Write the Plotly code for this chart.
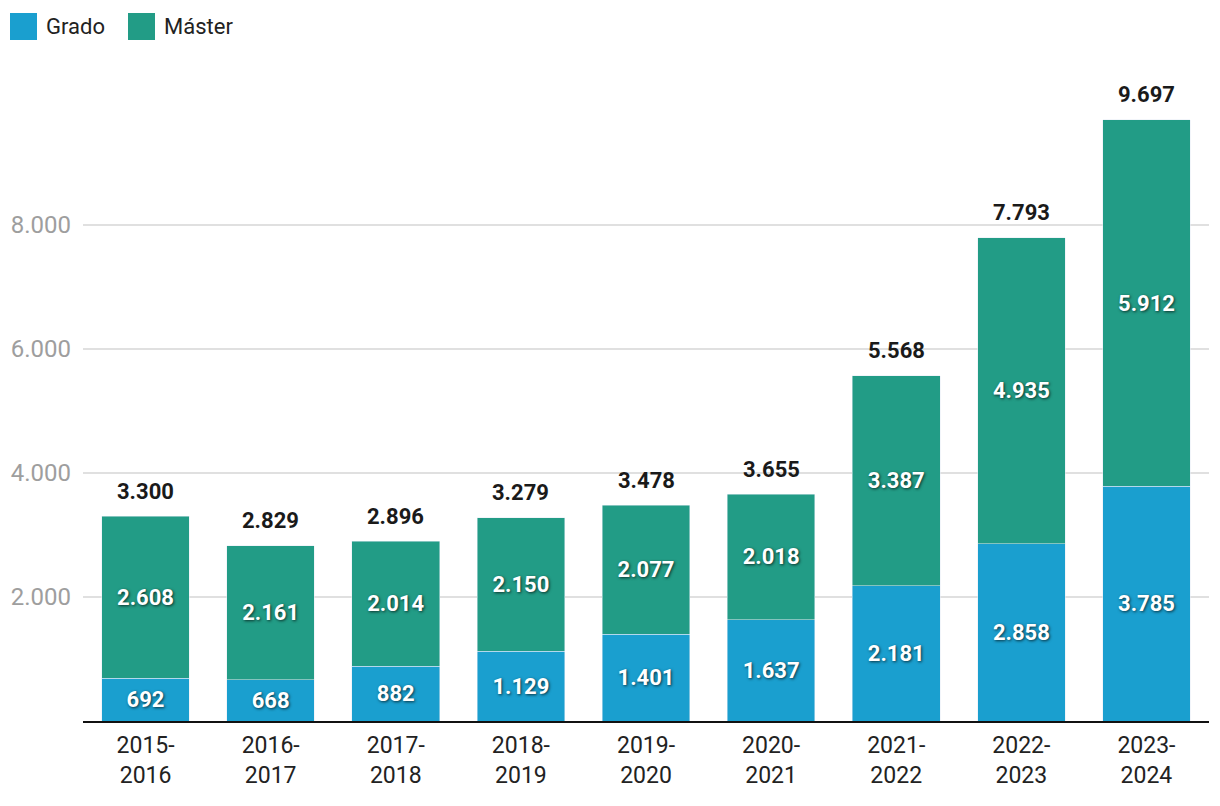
import plotly.graph_objects as go

categories = ["2015-<br>2016", "2016-<br>2017", "2017-<br>2018", "2018-<br>2019", "2019-<br>2020",
              "2020-<br>2021", "2021-<br>2022", "2022-<br>2023", "2023-<br>2024"]
grado = [692, 668, 882, 1129, 1401, 1637, 2181, 2858, 3785]
master = [2608, 2161, 2014, 2150, 2077, 2018, 3387, 4935, 5912]
totals = [3300, 2829, 2896, 3279, 3478, 3655, 5568, 7793, 9697]
y_ticks = [2000, 4000, 6000, 8000]
series_names = ["Grado", "Máster"]
series_colors = ["#1a9fcf", "#229c86"]

FONT = "Roboto"
shadow = "1px 1px 3px rgba(0,0,0,0.7)"

W, H = 1212, 798
L, R, T, B = 75, 11, 62, 85
PW, PH = W - L - R, H - T - B

def px(fx):
    return (fx - L) / PW

def py(fy):
    return (H - B - fy) / PH

fig = go.Figure()
for name, vals, col in zip(series_names, [grado, master], series_colors):
    fig.add_trace(go.Bar(
        x=categories, y=vals, name=name, marker_color=col, showlegend=False,
        texttemplate="%{y:,d}", textposition="inside", insidetextanchor="middle",
        textfont=dict(family=FONT, size=22, color="white", weight="bold", shadow=shadow),
        constraintext="none",
    ))

for c, t in zip(categories, totals):
    fig.add_annotation(x=c, y=t, text=f"{t:,}".replace(",", "."), showarrow=False,
                       yanchor="middle", yshift=25,
                       font=dict(family=FONT, size=22, color="#1a1a1a", weight="bold"))

# custom legend (large square swatches)
legend_x = [2, 120]
for lx, name, col in zip(legend_x, series_names, series_colors):
    fig.add_shape(type="rect", xref="paper", yref="paper",
                  x0=px(lx), x1=px(lx + 27), y0=py(32), y1=py(5),
                  fillcolor=col, line_width=0, layer="above")
    fig.add_annotation(xref="paper", yref="paper", x=px(lx + 34), y=py(18),
                       xanchor="left", yanchor="middle", text=name, showarrow=False,
                       font=dict(family=FONT, size=22, color="#222"))

fig.update_layout(
    barmode="stack", bargap=0.3,
    width=W, height=H,
    margin=dict(l=L, r=R, t=T, b=B, autoexpand=False),
    paper_bgcolor="white", plot_bgcolor="white",
    separators=",.",
    font=dict(family=FONT, size=20, color="#222"),
    showlegend=False,
)
fig.update_xaxes(showline=True, linecolor="#111", linewidth=2, ticks="", automargin=False,
                 tickfont=dict(family=FONT, size=23, color="#222"), ticklabelstandoff=2)
fig.update_yaxes(range=[0, 10500], tickvals=y_ticks, tickformat=",d", showgrid=True,
                 gridcolor="#e0e0e0", gridwidth=1.5, zeroline=False, automargin=False,
                 tickfont=dict(family=FONT, size=24, color="#9e9e9e"), ticklabelstandoff=11)

fig.write_html("out.html")
